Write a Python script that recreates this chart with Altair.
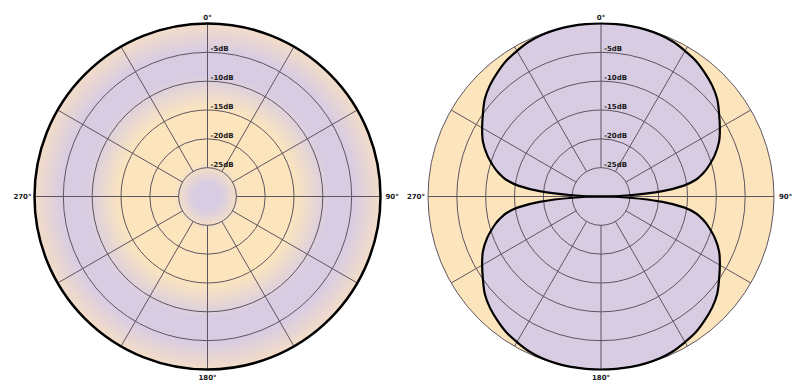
import altair as alt
import numpy as np
import pandas as pd

# ---------------- data ----------------
panels = ["omni", "fig8"]
ring_db = [-25, -20, -15, -10, -5, 0]
label_db = [-5, -10, -15, -20, -25]
label_text = ["-5dB", "-10dB", "-15dB", "-20dB", "-25dB"]
spoke_angles = [0, 30, 60, 90, 120, 150, 180, 210, 240, 270, 300, 330]
angle_label_angles = [0, 90, 180, 270]
angle_label_texts = ["0°", "90°", "180°", "270°"]
floor_db = -30  # level at the centre of each polar plot
inner_db = -25  # spokes start at this ring
# figure-8 response, one quadrant (angle in degrees -> level in dB)
fig8_angles = [0, 5, 10, 15, 20, 25, 30, 35, 40, 45, 50, 55, 60, 65, 70, 75,
               77.5, 80, 82.5, 85, 87.5, 90]
fig8_db = [0, 0, 0, -0.05, -0.15, -0.4, -0.85, -1.3, -2.0, -2.75, -3.7, -5.0,
           -6.2, -7.4, -9.0, -10.9, -12.0, -13.3, -15.5, -19.3, -25.0, -30]

# ---------------- layout / style ----------------
W, H = 784, 372
PX = 173 / 30.0           # pixels per dB
CXL, CY = 199.5, 188.5     # centre of left plot inside the view (px)
CXR = 593.0                # centre of right plot
offset = {"omni": 0.0, "fig8": (CXR - CXL) / PX}
LAV = "#d8cce2"
YEL = "#fce5bd"
EDGE = "#f3dcc8"
GRID = "#5e5560"
FONT = "DejaVu Sans"

xscale = alt.Scale(domain=[-CXL / PX, (W - CXL) / PX], nice=False, zero=False)
yscale = alt.Scale(domain=[-(H - CY) / PX, CY / PX], nice=False, zero=False)
rscale = alt.Scale(type="linear", domain=[0, 30], range=[0, 173], zero=True)


def X(f):
    return alt.X(f, type="quantitative", scale=xscale, axis=None)


def Y(f):
    return alt.Y(f, type="quantitative", scale=yscale, axis=None)


def R(f):
    return alt.Radius(f, type="quantitative", scale=rscale, stack=False)


# ---------------- derived tables ----------------
rings = pd.DataFrame(
    [{"panel": p, "cx": offset[p], "cy": 0.0, "rad": d - floor_db} for p in panels for d in ring_db]
)
disk = pd.DataFrame(
    [{"panel": p, "cx": offset[p], "cy": 0.0, "rad": 0 - floor_db} for p in panels]
)
sp = []
for p in panels:
    for a in spoke_angles:
        t = np.radians(a)
        r1, r2 = inner_db - floor_db, 0 - floor_db
        sp.append({"panel": p, "x": offset[p] + r1 * np.sin(t), "y": r1 * np.cos(t),
                   "x2": offset[p] + r2 * np.sin(t), "y2": r2 * np.cos(t)})
spokes = pd.DataFrame(sp)

labs = pd.DataFrame(
    [{"panel": p, "x": offset[p], "y": d - floor_db, "text": t}
     for p in panels for d, t in zip(label_db, label_text)]
)
al = []
for p in panels:
    for a, t in zip(angle_label_angles, angle_label_texts):
        tt = np.radians(a)
        r = 0 - floor_db
        al.append({"panel": p, "ang": a, "x": offset[p] + r * np.sin(tt), "y": r * np.cos(tt), "text": t})
alabs = pd.DataFrame(al)

# figure-8 lobes (mirror the quadrant)
half = list(zip(fig8_angles, fig8_db))
upper = [(-a, d) for a, d in reversed(half[1:-1])] + half  # -87.5 .. 90
lobe_rows = []
for lobe, rot in (("front", 0), ("back", 180)):
    for i, (a, d) in enumerate(upper):
        t = np.radians(a + rot)
        r = max(d - floor_db, 0)
        lobe_rows.append({"lobe": lobe, "i": i, "x": offset["fig8"] + r * np.sin(t), "y": r * np.cos(t)})
lobes = pd.DataFrame(lobe_rows)

# ---------------- layers ----------------
full = dict(theta=0, theta2=2 * np.pi)
grad = alt.RadialGradient(
    gradient="radial",
    stops=[
        alt.GradientStop(offset=0.0, color=LAV),
        alt.GradientStop(offset=0.08, color=LAV),
        alt.GradientStop(offset=0.2, color=YEL),
        alt.GradientStop(offset=0.5, color=YEL),
        alt.GradientStop(offset=0.7, color=LAV),
        alt.GradientStop(offset=0.84, color=LAV),
        alt.GradientStop(offset=1.0, color=EDGE),
    ],
    x1=0.5, y1=0.5, r1=0, x2=0.5, y2=0.5, r2=0.5,
)

disk_enc = dict(x=X("cx"), y=Y("cy"), radius=R("rad"))

left_disk = alt.Chart(disk).transform_filter("datum.panel == 'omni'").mark_arc(
    fill=grad, **full).encode(**disk_enc)
right_disk = alt.Chart(disk).transform_filter("datum.panel == 'fig8'").mark_arc(
    fill=YEL, **full).encode(**disk_enc)

lobe_fill = alt.Chart(lobes).mark_line(
    fill=LAV, strokeOpacity=0, interpolate="cardinal-closed").encode(
    x=X("x"), y=Y("y"), detail="lobe:N", order="i:Q")

ring_layer = alt.Chart(rings).mark_arc(
    fillOpacity=0, stroke=GRID, strokeWidth=1, **full).encode(
    x=X("cx"), y=Y("cy"), radius=R("rad"))

spoke_layer = alt.Chart(spokes).mark_rule(color=GRID, strokeWidth=1).encode(
    x=X("x"), y=Y("y"), x2="x2:Q", y2="y2:Q")

lobe_line = alt.Chart(lobes).mark_line(
    color="black", strokeWidth=2.2, interpolate="cardinal-closed").encode(
    x=X("x"), y=Y("y"), detail="lobe:N", order="i:Q")

left_edge = alt.Chart(disk).transform_filter("datum.panel == 'omni'").mark_arc(
    fillOpacity=0, stroke="black", strokeWidth=2.5, **full).encode(**disk_enc)

tstyle = dict(font=FONT, fontSize=7, fontWeight="bold", color="#1a1a1a")
db_text = alt.Chart(labs).mark_text(
    align="left", baseline="alphabetic", dx=3, dy=-1, **tstyle).encode(
    x=X("x"), y=Y("y"), text="text:N")

top_t = alt.Chart(alabs).transform_filter("datum.ang == 0").mark_text(
    align="center", baseline="bottom", dy=-3, **tstyle).encode(x=X("x"), y=Y("y"), text="text:N")
bot_t = alt.Chart(alabs).transform_filter("datum.ang == 180").mark_text(
    align="center", baseline="top", dy=4, **tstyle).encode(x=X("x"), y=Y("y"), text="text:N")
rt_t = alt.Chart(alabs).transform_filter("datum.ang == 90").mark_text(
    align="left", baseline="middle", dx=5, **tstyle).encode(x=X("x"), y=Y("y"), text="text:N")
lf_t = alt.Chart(alabs).transform_filter("datum.ang == 270").mark_text(
    align="right", baseline="middle", dx=-3, **tstyle).encode(x=X("x"), y=Y("y"), text="text:N")

chart = alt.layer(
    left_disk, right_disk, lobe_fill, ring_layer, spoke_layer, lobe_line, left_edge,
    db_text, top_t, bot_t, rt_t, lf_t,
).resolve_scale(radius="shared").properties(
    width=W, height=H,
    autosize=alt.AutoSizeParams(type="none"),
    padding=0,
    background="white",
).configure_view(stroke=None)

chart.save("out.html", embed_options={"renderer": "svg", "actions": False})
